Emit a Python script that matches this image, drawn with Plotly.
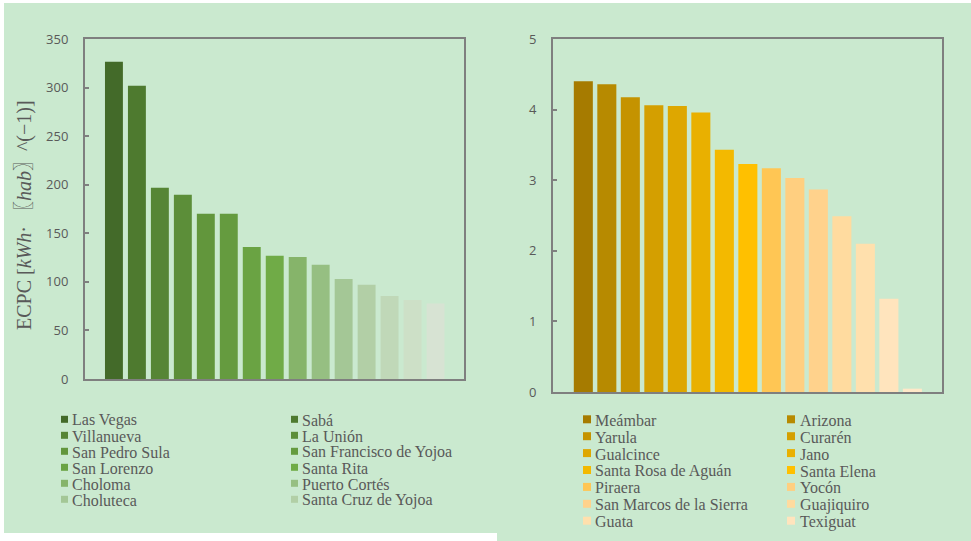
import plotly.graph_objects as go

W, H = 971, 541

# ---------------- data ----------------
left_names = ["Las Vegas", "Sabá", "Villanueva", "La Unión", "San Pedro Sula",
              "San Francisco de Yojoa", "San Lorenzo", "Santa Rita", "Choloma",
              "Puerto Cortés", "Choluteca", "Santa Cruz de Yojoa"]
left_values = [326.7, 302.0, 196.8, 189.6, 170.0, 170.0, 136.0, 126.8, 125.7,
               117.5, 103.0, 96.9, 85.5, 81.4, 77.6]
left_colors = ["#436a29", "#4e7a2f", "#568535", "#5c8e39", "#62963c", "#659b3f",
               "#6aa343", "#70ab47", "#86b46a", "#96bf82", "#a4c796", "#b2cfa6",
               "#c0d8b8", "#cde0c7", "#d7e3d3"]

right_names = ["Meámbar", "Arizona", "Yarula", "Curarén", "Gualcince", "Jano",
               "Santa Rosa de Aguán", "Santa Elena", "Piraera", "Yocón",
               "San Marcos de la Sierra", "Guajiquiro", "Guata", "Texiguat"]
right_values = [4.40, 4.36, 4.175, 4.06, 4.05, 3.96, 3.43, 3.23, 3.17, 3.03,
                2.87, 2.49, 2.10, 1.32, 0.047]
right_colors = ["#a67b00", "#b78a00", "#c59300", "#d49f00", "#dea700", "#e9b000",
                "#f3b900", "#ffc000", "#ffc654", "#ffcf80", "#ffd28c", "#ffdb9f",
                "#ffe0ad", "#ffe4bd", "#ffe8c8"]

left_ticks = [0, 50, 100, 150, 200, 250, 300, 350]
right_ticks = [0, 1, 2, 3, 4, 5]
y_title = "ECPC [<i>kWh</i>· 〖<i>hab</i>〗^(−1)]"

# ---------------- helpers ----------------
def px(x):
    return x / W

def py(y):
    return 1 - y / H

PANEL = "#cae9cf"
GRAY_TXT = "#595959"
AXIS = "#7f7f7f"

fig = go.Figure()

fig.add_trace(go.Bar(x=list(range(len(left_values))), y=left_values,
                     marker=dict(color=left_colors, line=dict(width=0)),
                     width=0.78, showlegend=False, xaxis="x", yaxis="y"))
fig.add_trace(go.Bar(x=list(range(len(right_values))), y=right_values,
                     marker=dict(color=right_colors, line=dict(width=0)),
                     width=0.81, showlegend=False, xaxis="x2", yaxis="y2"))

axis_common = dict(showline=True, linecolor=AXIS, linewidth=2, mirror=True,
                   showgrid=False, zeroline=False, automargin=False)

fig.update_layout(
    width=W, height=H,
    margin=dict(l=0, r=0, t=0, b=0, pad=0, autoexpand=False),
    paper_bgcolor="white",
    plot_bgcolor="rgba(0,0,0,0)",
    showlegend=False,
    bargap=0.2,
    xaxis=dict(domain=[px(85), px(464)], range=[-1.26, 15.24],
               showticklabels=False, ticks="", anchor="y", **axis_common),
    yaxis=dict(domain=[py(379), py(39)], range=[0, 350], tickvals=left_ticks,
               ticks="inside", ticklen=4, tickcolor=AXIS, tickwidth=1.5,
               ticklabelstandoff=12,
               tickfont=dict(family="Open Sans", size=13, color=GRAY_TXT),
               anchor="x", **axis_common),
    xaxis2=dict(domain=[px(553), px(942)], range=[-1.29, 15.26],
                showticklabels=False, ticks="", anchor="y2", **axis_common),
    yaxis2=dict(domain=[py(392), py(39)], range=[0, 5], tickvals=right_ticks,
                ticks="inside", ticklen=4, tickcolor=AXIS, tickwidth=1.5,
                ticklabelstandoff=12,
                tickfont=dict(family="Open Sans", size=13, color=GRAY_TXT),
                anchor="x2", **axis_common),
)

shapes = [
    dict(type="rect", xref="paper", yref="paper", x0=px(4), x1=px(497),
         y0=py(533), y1=py(3), fillcolor=PANEL, line=dict(width=0), layer="below"),
    dict(type="rect", xref="paper", yref="paper", x0=px(497), x1=px(971),
         y0=py(541), y1=py(3), fillcolor=PANEL, line=dict(width=0), layer="below"),
]
annotations = [
    dict(text=y_title, x=px(25), y=py(215), xref="paper", yref="paper",
         textangle=-90, showarrow=False, xanchor="center", yanchor="middle",
         font=dict(family="Liberation Serif, Noto Sans CJK SC", size=20,
                   color=GRAY_TXT)),
]

def add_legend(names, colors, sq_x, txt_x, y0, dy, sq):
    for i, name in enumerate(names):
        col, row = i % 2, i // 2
        yc = y0 + row * dy
        shapes.append(dict(type="rect", xref="paper", yref="paper",
                           x0=px(sq_x[col]), x1=px(sq_x[col] + sq),
                           y0=py(yc + sq / 2), y1=py(yc - sq / 2),
                           fillcolor=colors[i], line=dict(width=0)))
        annotations.append(dict(text=name, x=px(txt_x[col]), y=py(yc + 1),
                                xref="paper", yref="paper", showarrow=False,
                                xanchor="left", yanchor="middle",
                                font=dict(family="Liberation Serif", size=16,
                                          color=GRAY_TXT)))

add_legend(left_names, left_colors, [61, 291], [70, 300], 419.3, 16.0, 7)
add_legend(right_names, right_colors, [583, 787], [593, 797.5], 419.3, 16.9, 8)

fig.update_layout(shapes=shapes, annotations=annotations)
fig.write_html("out.html")
